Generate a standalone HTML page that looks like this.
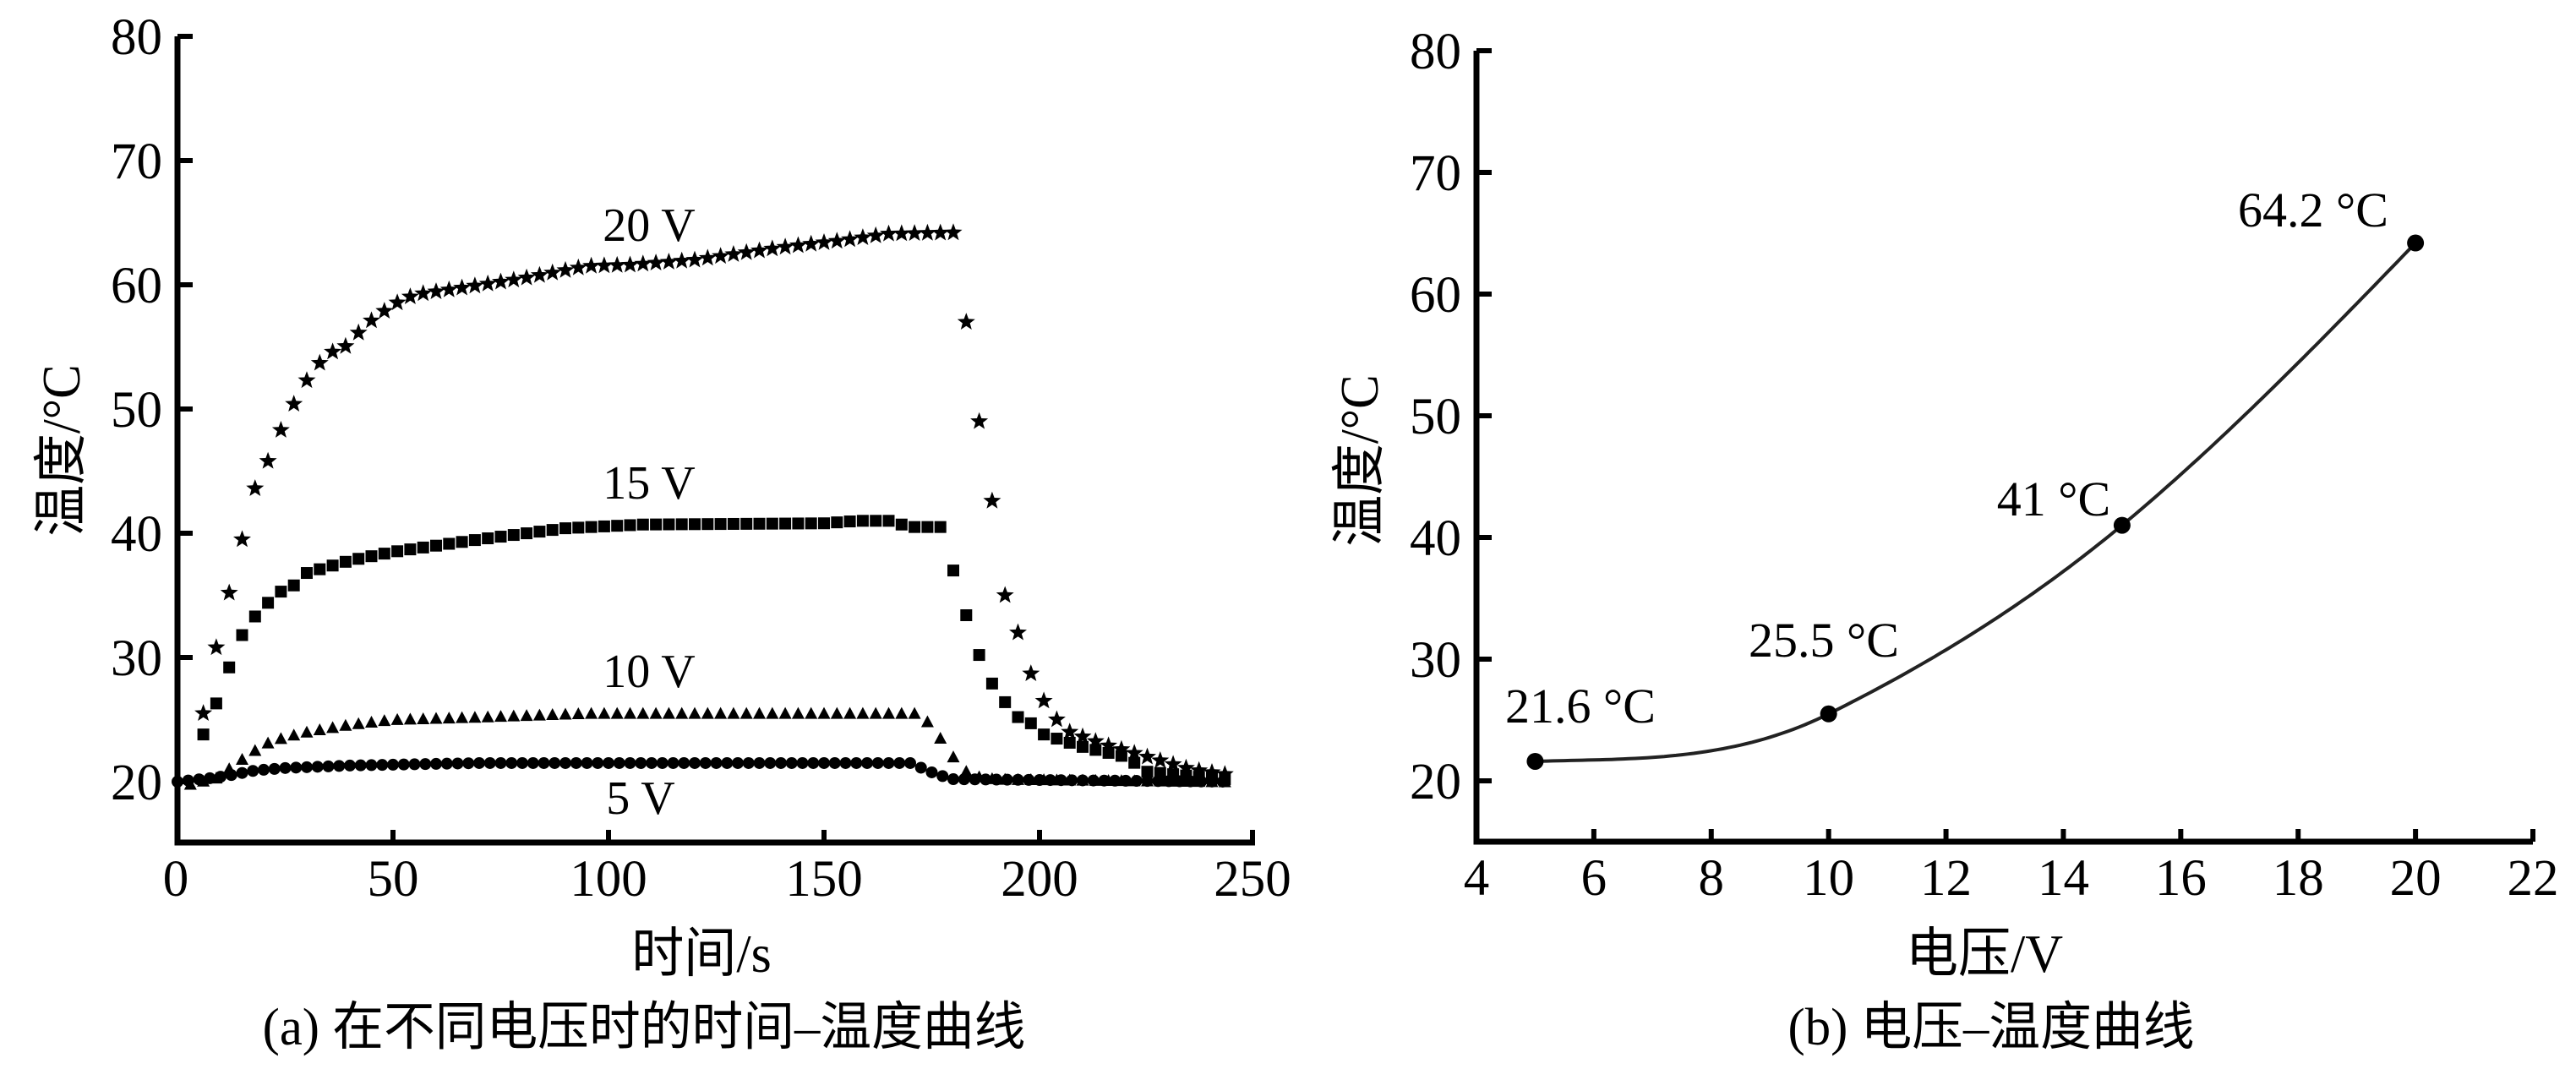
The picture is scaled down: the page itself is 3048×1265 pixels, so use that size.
<!DOCTYPE html>
<html><head><meta charset="utf-8"><style>
html,body{margin:0;padding:0;background:#fff;}
svg{display:block;}
text{font-family:"Liberation Serif","Noto Serif CJK SC",serif;fill:#000;}
.cj{font-family:"Liberation Serif","Noto Sans CJK SC",sans-serif;}
</style></head><body>
<svg id="s" width="3048" height="1265" viewBox="0 0 3048 1265" xmlns="http://www.w3.org/2000/svg">
<g id="A"></g>
<!-- left axes -->
<path d="M210,43 V997 H1485" fill="none" stroke="#000" stroke-width="7"/>
<g stroke="#000" stroke-width="6">
<line x1="210" y1="43" x2="228" y2="43"/><line x1="210" y1="190" x2="228" y2="190"/><line x1="210" y1="337" x2="228" y2="337"/><line x1="210" y1="484" x2="228" y2="484"/><line x1="210" y1="631" x2="228" y2="631"/><line x1="210" y1="778" x2="228" y2="778"/><line x1="210" y1="925" x2="228" y2="925"/>
<line x1="465" y1="997" x2="465" y2="982"/><line x1="720" y1="997" x2="720" y2="982"/><line x1="975" y1="997" x2="975" y2="982"/><line x1="1230" y1="997" x2="1230" y2="982"/><line x1="1482" y1="997" x2="1482" y2="982"/>
</g>
<g font-size="61" text-anchor="end">
<text x="192" y="64">80</text><text x="192" y="211">70</text><text x="192" y="358">60</text><text x="192" y="505">50</text><text x="192" y="652">40</text><text x="192" y="799">30</text><text x="192" y="946">20</text>
</g>
<g font-size="61" text-anchor="middle">
<text x="208" y="1060">0</text><text x="465" y="1060">50</text><text x="720" y="1060">100</text><text x="975" y="1060">150</text><text x="1230" y="1060">200</text><text x="1482" y="1060">250</text>
</g>
<g font-size="56" text-anchor="middle">
<text x="768" y="285">20 V</text><text x="768" y="590">15 V</text><text x="768" y="813">10 V</text><text x="758" y="963">5 V</text>
</g>
<text class="cj" x="830" y="1150" font-size="64" text-anchor="middle" transform="translate(830,0) scale(0.97,1) translate(-830,0)">时间/s</text>
<text class="cj" x="762" y="1236" font-size="62" text-anchor="middle" transform="translate(762,0) scale(0.98,1) translate(-762,0)">(a) 在不同电压时的时间–温度曲线</text>
<text class="cj" font-size="64" text-anchor="middle" transform="translate(94,533) rotate(-90) scale(0.95,1)">温度/°C</text>

<!-- right axes -->
<path d="M1747,60 V996 H2997" fill="none" stroke="#000" stroke-width="7"/>
<g id="R"></g>
<g font-size="61" text-anchor="end">
<text x="1729" y="81">80</text><text x="1729" y="225">70</text><text x="1729" y="369">60</text><text x="1729" y="513">50</text><text x="1729" y="657">40</text><text x="1729" y="801">30</text><text x="1729" y="945">20</text>
</g>
<g font-size="61" text-anchor="middle" id="RX"></g>
<g font-size="58" text-anchor="middle">
<text x="2737" y="268">64.2 °C</text><text x="2430" y="610">41 °C</text><text x="2158" y="777">25.5 °C</text><text x="1870" y="855">21.6 °C</text>
</g>
<text class="cj" x="2348" y="1150" font-size="64" text-anchor="middle" transform="translate(2348,0) scale(0.97,1) translate(-2348,0)">电压/V</text>
<text class="cj" x="2356" y="1236" font-size="62" text-anchor="middle" transform="translate(2356,0) scale(0.98,1) translate(-2356,0)">(b) 电压–温度曲线</text>
<text class="cj" font-size="64" text-anchor="middle" transform="translate(1630,545) rotate(-90) scale(0.95,1)">温度/°C</text>
</svg>
<script>
var NS="http://www.w3.org/2000/svg";
function el(p,t,a){var e=document.createElementNS(NS,t);for(var k in a)e.setAttribute(k,a[k]);p.appendChild(e);return e;}
var A=document.getElementById('A');
function X(t){return 210+t*5.1;}function Y(v){return 43+(80-v)*14.7;}
function interp(an,t){for(var i=0;i<an.length-1;i++){if(t>=an[i][0]&&t<=an[i+1][0]){var f=(t-an[i][0])/(an[i+1][0]-an[i][0]);return an[i][1]+f*(an[i+1][1]-an[i][1]);}}return an[an.length-1][1];}
var s20=[[6,25.5],[9,30.8],[12,35.2],[15,39.5],[18,43.6],[21,45.8],[24,48.3],[27,50.4],[30,52.3],[33,53.7],[36,54.6],[40,55.2],[43,56.6],[50,58.4],[55,59.2],[65,59.7],[80,60.5],[95,61.5],[105,61.6],[120,62.0],[140,63.0],[155,63.6],[165,64.1],[180,64.2],[183,57],[186,49],[189,42.6],[192,35],[195,32],[198,28.7],[201,26.5],[204,25],[207,24],[215,23],[225,22],[235,21],[243,20.6]];
var s15=[[6,23.8],[9,26.3],[12,29.2],[15,31.8],[18,33.3],[21,34.4],[24,35.3],[27,35.8],[30,36.8],[40,37.8],[50,38.5],[70,39.5],[90,40.4],[108,40.7],[150,40.8],[158,41.0],[165,41.0],[170,40.5],[178,40.5],[180,37],[183,33.4],[186,30.2],[189,27.9],[192,26.4],[195,25.2],[198,24.7],[201,23.8],[210,22.8],[220,22],[225,20.8],[243,20.2]];
var s10=[[3,19.8],[9,20.3],[15,21.8],[20,23],[25,23.6],[30,24],[40,24.6],[50,25],[70,25.2],[95,25.5],[172,25.5],[175,24.5],[178,23],[181,21.5],[184,20.5],[190,20.2],[243,20]];
var s5=[[0,20],[8,20.3],[12,20.5],[18,20.9],[25,21.1],[40,21.3],[70,21.5],[170,21.5],[176,20.6],[180,20.2],[243,20]];
function star(cx,cy,r){var p=[];for(var i=0;i<10;i++){var a=-Math.PI/2+i*Math.PI/5,rr=i%2?r*0.42:r;p.push((cx+rr*Math.cos(a)).toFixed(1)+','+(cy+rr*Math.sin(a)).toFixed(1));}el(A,'polygon',{points:p.join(' '),fill:'#000'});}
for(var t=0;t<=243;t+=2.5){var v=interp(s5,t);el(A,'circle',{cx:X(t),cy:Y(v),r:7,fill:'#000'});}
for(var t=3;t<=243;t+=3){var v=interp(s10,t),x=X(t),y=Y(v);el(A,'polygon',{points:(x-7.5)+','+(y+6.5)+' '+(x+7.5)+','+(y+6.5)+' '+x+','+(y-7.5),fill:'#000'});}
for(var t=6;t<=243;t+=3){var v=interp(s15,t);el(A,'rect',{x:X(t)-7,y:Y(v)-7,width:14,height:14,fill:'#000'});}
for(var t=6;t<=243;t+=3){var v=interp(s20,t);star(X(t),Y(v),11);}
// right chart
var R=document.getElementById('R'),RX=document.getElementById('RX');
function X2(v){return 1747+(v-4)*(2997-1747)/18;}function Y2(v){return 60+(80-v)*14.4;}
for(var v=4;v<=22;v+=2){var x=X2(v);if(v>4)el(R,'line',{x1:x,y1:996,x2:x,y2:981,stroke:'#000','stroke-width':6});var tx=el(RX,'text',{x:x,y:1059});tx.textContent=v;}
for(var v=20;v<=80;v+=10){el(R,'line',{x1:1747,y1:Y2(v),x2:1765,y2:Y2(v),stroke:'#000','stroke-width':6});}
// monotone cubic hermite
var P=[[5,21.6],[10,25.5],[15,41],[20,64.2]];
var m=[0.15,2.4,4.0,5.0];
function f(x){var i=Math.min(2,Math.floor((x-5)/5));var x0=P[i][0],h=5,t=(x-x0)/h;var y0=P[i][1],y1=P[i+1][1];
var h00=2*t*t*t-3*t*t+1,h10=t*t*t-2*t*t+t,h01=-2*t*t*t+3*t*t,h11=t*t*t-t*t;return h00*y0+h10*h*m[i]+h01*y1+h11*h*m[i+1];}
var d='';for(var x=5;x<=20.001;x+=0.1){d+=(d?'L':'M')+X2(x).toFixed(1)+','+Y2(f(Math.min(x,19.9999))).toFixed(1);}
el(R,'path',{d:d,fill:'none',stroke:'#222','stroke-width':4});
P.forEach(function(p){el(R,'circle',{cx:X2(p[0]),cy:Y2(p[1]),r:10,fill:'#000'});});
</script>
</body></html>
